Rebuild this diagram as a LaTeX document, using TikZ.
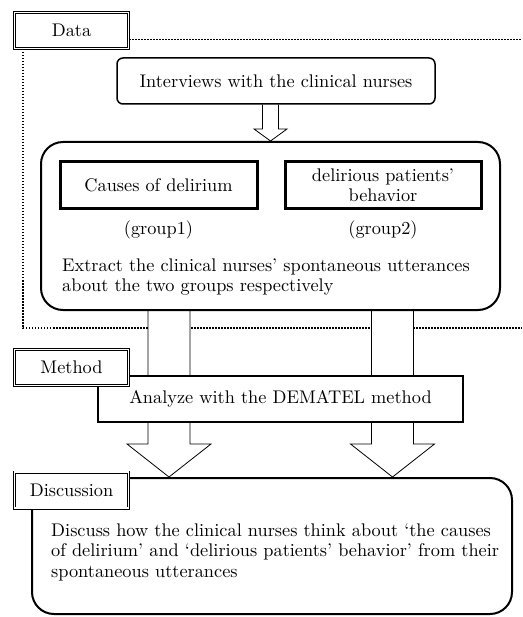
\documentclass[tikz,border=0pt]{standalone}
\usepackage{fontspec}
\setmainfont{lmroman10-regular.otf}
\usetikzlibrary{calc,backgrounds}
\begin{document}
\begin{tikzpicture}[x=1pt,y=-1pt,
  font=\fontsize{18.3}{20.5}\selectfont,
  lblbox/.style={draw, double, double distance=1.4pt, line width=0.8pt, fill=white,
    minimum width=114pt, minimum height=36pt, inner sep=0pt},
  roundbox/.style={draw, fill=white, rounded corners=#1, inner sep=0pt},
  sqbox/.style={draw, fill=white, inner sep=0pt, align=center},
  dotline/.style={line width=1.8pt, dash pattern=on 1.6pt off 1.4pt},
  blockarrow/.style={draw, fill=white, line width=0.8pt}
]
\useasboundingbox (0,0) rectangle (522,617);

% main boxes
\node[roundbox=6pt, line width=1.5pt, minimum width=318pt, minimum height=46pt] (interviews) at (276,81) {Interviews with the clinical nurses};
\node[roundbox=22pt, line width=2pt, minimum width=459pt, minimum height=168pt] (big) at (270.5,226) {};
\node[sqbox, line width=3pt, minimum width=197pt, minimum height=47pt] (causes) at (158.5,185.5) {Causes of delirium};
\node[sqbox, line width=3pt, minimum width=196pt, minimum height=47pt] (behav) at (383,185.5) {delirious patients’\\behavior};
\node (g1) at (158.5,230) {(group1)};
\node (g2) at (383,230) {(group2)};
\node[anchor=west, align=left, inner sep=0pt] (extract) at (62,277) {Extract the clinical nurses’ spontaneous utterances\\about the two groups respectively};
\node[sqbox, line width=1.5pt, minimum width=365pt, minimum height=46pt] (analyze) at (280.5,399) {Analyze with the DEMATEL method};
\node[roundbox=22pt, line width=2pt, minimum width=480pt, minimum height=136pt] (disc) at (272,546) {};
\node[anchor=west, align=left, inner sep=0pt] (disctext) at (51,552) {Discuss how the clinical nurses think about ‘the causes\\of delirium’ and ‘delirious patients’ behavior’ from their\\spontaneous utterances};

% labels
\node[lblbox] (data) at (71.5,30.5) {Data};
\node[lblbox] (method) at (71.5,367.5) {Method};
\node[lblbox] (discussion) at (71.5,490) {Discussion};

\begin{scope}[on background layer]
  % dotted frame (open on the right)
  \coordinate (fr1) at (521,39.5);
  \coordinate (fr2) at (521,328);
  \coordinate (frl) at (23,328);
  \draw[dotline] (data.east |- fr1) -- (fr1);
  \draw[dotline] (data.south -| frl) -- (frl) -- (fr2);
\end{scope}

% block arrows (under boxes)
\begin{scope}[on background layer]
  \coordinate (a1) at (interviews.south -| big.north);
  \draw[blockarrow] ($(a1)+(-8,0)$) -- ($(big.north)+(-8,-12)$) -- ($(big.north)+(-16.5,-12)$)
     -- (big.north) -- ($(big.north)+(16.5,-12)$) -- ($(big.north)+(8,-12)$) -- ($(a1)+(8,0)$);
  \foreach \cx/\nm in {169/L,392.5/R}{
    \coordinate (\nm) at (\cx,0);
    \coordinate (\nm top) at (\nm |- big.south);
    \coordinate (\nm tip) at (\nm |- disc.north);
    \draw[blockarrow] ($(\nm top)+(-21,0)$) -- ($(\nm tip)+(-21,-33)$) -- ($(\nm tip)+(-42,-33)$)
      -- (\nm tip) -- ($(\nm tip)+(42,-33)$) -- ($(\nm tip)+(21,-33)$) -- ($(\nm top)+(21,0)$);
  }
\end{scope}
\end{tikzpicture}
\end{document}
